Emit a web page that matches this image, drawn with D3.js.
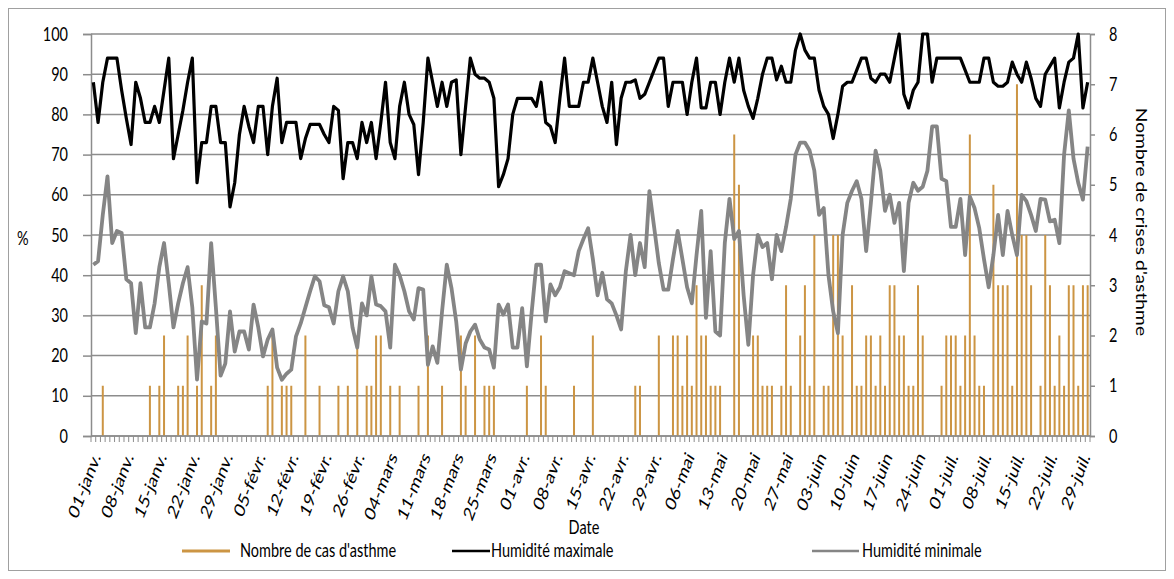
<!DOCTYPE html>
<html>
<head>
<meta charset="utf-8">
<script src="https://cdn.jsdelivr.net/npm/d3@7"></script>
<style>
body { margin: 0; background: #fff; }
text { font-family: Lato, "Open Sans", sans-serif; fill: #000; }
</style>
</head>
<body>
<svg id="chart" width="1174" height="579"></svg>
<script>
// daily values, 01-janv. .. 31-juil.
var asthme = [
  0,0,1,0,0,0,0,0,0,0,0,0,1,0,
  1,2,0,0,1,1,2,0,1,3,0,1,2,0,
  0,0,0,0,0,0,0,0,0,1,2,0,1,1,
  1,0,0,2,0,0,1,0,0,0,1,0,1,0,
  2,0,1,1,2,2,0,1,0,1,0,0,0,1,
  0,2,0,0,1,0,0,0,2,1,0,2,0,1,
  1,1,0,0,0,0,0,0,1,0,0,2,1,0,
  0,0,0,0,1,0,0,0,2,0,0,0,0,0,
  0,0,0,1,1,0,0,0,2,0,0,2,2,1,
  2,1,3,2,2,1,1,1,0,0,6,5,0,0,
  2,2,1,1,1,0,1,3,1,0,2,3,1,4,
  0,1,1,4,4,2,0,3,1,1,2,2,1,2,
  1,3,3,2,2,1,1,3,2,0,0,0,1,2,
  2,2,1,2,6,2,1,1,0,5,3,3,3,1,
  7,4,4,3,0,1,4,3,1,2,1,3,3,1,
  3,3
];

var humMax = [
  88,78,88,94,94,94,86,79,72.5,88,84,78,78,82,
  78,86,94,69,75,81,88,94,63,73,73,82,82,73,
  73,57,63,75,82,77,73,82,82,70,82,89,73,78,
  78,78,69,74,77.5,77.5,77.5,75,73,82,81,64,73,73,
  69,78,73,78,69,78,88,73,69,82,88,80,77.5,65,
  78,94,88,82,88,82,88,88.6,70,82,94,90,89,89,
  88,84,62,65,69,80,84,84,84,84,82,88,78,77,
  73,84,94,82,82,82,88,88,94,88,82,78,88,72.5,
  84,88,88,88.6,84,85,88,91,94,94,82,88,88,88,
  80,88,94,81.6,81.6,88,88,80,88,94,88,94,86,82,
  79,84,90,94,94,88.6,92,88,88,96,100,96,94,94,
  86,82,80,74,80,87,88,88,91,94,94,89,88,90,
  90,88,94,100,85,81.6,86,88,100,100,88,94,94,94,
  94,94,94,91,88,88,88,94,94,88,87,87,88,93,
  90,88,93,89,84,82,90,92,94,81.6,88,93,94,100,
  81.6,88
];

var humMin = [
  42.6,43.5,55,64.6,48,51,50.5,39,38,25.6,38,27,27,33,
  42,48,38,27,33,38,42,32,14,28.5,28,48,32,15,
  18,31,21,26,26,21.5,32.7,27,19.8,24,26.5,17,14,15.5,
  16.5,24.8,28,32,36,39.7,38.5,32.5,32,28,36,39.7,36,27,
  22,33,30,39.7,32.7,32.3,31,22,42.6,40,36,31,29,36.8,
  36.4,17.7,22.3,18.2,31,42.6,36.8,28.5,16.5,23,26,27.7,24,22,
  21.5,17,32.7,30.2,32.7,22,22,31.8,17.3,30.6,42.6,42.6,28.5,37.7,
  35,37,41,40.5,40,46,49,51.7,44,35,40.6,34,33,30,
  26.5,41,50,40,48,42,60.9,52,43,36.4,36.4,44,51,44,
  37,33,45,56,29.4,46,26,25,48,59,49,51,35,22.7,
  40,50,47,48,39,50,46,52,59,70,73,73,71,66,
  55,56.7,40,31,25.6,50,58,61,63.4,59,46,58,71,66,
  56,60,53,58,41,58,63,61,62,66,77,77,64,63.4,
  52,52,59,45,59.6,56.7,51.7,44,37,45,55,45,56,50,
  45,60,58.4,55,51,59,58.8,53.4,53.8,48,70,81,69,63,
  58.8,72
];

var tickLabels = ["01-janv.","08-janv.","15-janv.","22-janv.","29-janv.","05-févr.","12-févr.",
  "19-févr.","26-févr.","04-mars","11-mars","18-mars","25-mars","01-avr.","08-avr.","15-avr.",
  "22-avr.","29-avr.","06-mai","13-mai","20-mai","27-mai","03-juin","10-juin","17-juin",
  "24-juin","01-juil.","08-juil.","15-juil.","22-juil.","29-juil."];

var seriesNames = ["Nombre de cas d'asthme", "Humidité maximale", "Humidité minimale"];
var colors = ["#cc9544", "#000000", "#858585"];

var W = 1174, H = 579;
var plotL = 91, plotR = 1090, plotT = 34, plotB = 436;
var stretch = 1.33; // text in the picture is taller than wide

var svg = d3.select("#chart");
svg.append("rect").attr("width", W).attr("height", H).attr("fill", "#fff");
svg.append("rect").attr("x", 8.5).attr("y", 8.5).attr("width", 1157).attr("height", 562)
  .attr("fill", "none").attr("stroke", "#a0a0a0");

var x = d3.scaleBand().domain(d3.range(humMax.length)).range([plotL, plotR]);
var xc = function(i) { return x(i) + x.bandwidth() / 2; };
var y = d3.scaleLinear().domain([0, 100]).range([plotB, plotT]);
var y2 = d3.scaleLinear().domain([0, 8]).range([plotB, plotT]);

// gridlines
svg.append("g").selectAll("line").data(y.ticks(10)).enter().append("line")
  .attr("x1", plotL).attr("x2", plotR)
  .attr("y1", d => y(d)).attr("y2", d => y(d))
  .attr("stroke", "#8c8c8c").attr("stroke-width", 1.5);

// left axis
var gl = svg.append("g").attr("transform", "translate(" + plotL + ",0)")
  .call(d3.axisLeft(y).ticks(10).tickSize(8).tickPadding(15));
// right axis
var gr = svg.append("g").attr("transform", "translate(" + plotR + ",0)")
  .call(d3.axisRight(y2).ticks(8).tickSize(5).tickPadding(14));
[gl, gr].forEach(function(g) {
  g.select(".domain").attr("stroke", "#8c8c8c").attr("stroke-width", 1.5);
  g.selectAll(".tick line").attr("stroke", "#8c8c8c").attr("stroke-width", 1.5);
  g.selectAll(".tick text").attr("font-size", 14.5).attr("font-family", "Lato")
    .attr("transform", "scale(1," + stretch + ")");
});

// category ticks under the axis
svg.append("g").selectAll("line").data(d3.range(humMax.length + 1)).enter().append("line")
  .attr("x1", d => d < humMax.length ? x(d) : plotR)
  .attr("x2", d => d < humMax.length ? x(d) : plotR)
  .attr("y1", plotB).attr("y2", plotB + 6)
  .attr("stroke", "#8c8c8c").attr("stroke-width", 1);

// bars
svg.append("g").selectAll("rect").data(asthme).enter().append("rect")
  .attr("x", (d, i) => xc(i) - 1)
  .attr("width", 2)
  .attr("y", d => y2(d))
  .attr("height", d => plotB - y2(d))
  .attr("fill", colors[0]);

// x baseline
svg.append("line").attr("x1", plotL).attr("x2", plotR).attr("y1", plotB).attr("y2", plotB)
  .attr("stroke", "#8c8c8c").attr("stroke-width", 1.5);

// lines
var line = d3.line().x((d, i) => xc(i)).y(d => y(d));
svg.append("path").datum(humMin).attr("d", line).attr("fill", "none")
  .attr("stroke", colors[2]).attr("stroke-width", 3.8).attr("stroke-linejoin", "round");
svg.append("path").datum(humMax).attr("d", line).attr("fill", "none")
  .attr("stroke", colors[1]).attr("stroke-width", 3.2).attr("stroke-linejoin", "round");

// x tick labels
svg.append("g").selectAll("g").data(tickLabels).enter().append("g")
  .attr("transform", (d, k) => "translate(" + (xc(k * 7) + 3) + "," + (plotB + 18) + ") scale(1," + stretch + ") rotate(-63)")
  .append("text")
  .attr("text-anchor", "end").attr("dy", "0.35em")
  .attr("font-size", 15)
  .text(d => d);

function label(str, tx, ty, rot, anchor) {
  svg.append("g")
    .attr("transform", "translate(" + tx + "," + ty + ") scale(1," + stretch + ")" + (rot ? " rotate(" + rot + ")" : ""))
    .append("text").attr("text-anchor", anchor || "start").attr("dy", "0.35em")
    .attr("font-size", 14.5).text(str);
}

label("%", 17, 238);
label("Date", 584, 527, 0, "middle");
label("Nombre de crises d'asthme", 1141, 222, 90, "middle");

// legend
var legend = [
  {x1: 182, x2: 230, tx: 240},
  {x1: 452, x2: 490, tx: 491},
  {x1: 812, x2: 859, tx: 862}
];
legend.forEach(function(l, k) {
  svg.append("line").attr("x1", l.x1).attr("x2", l.x2).attr("y1", 551).attr("y2", 551)
    .attr("stroke", colors[k]).attr("stroke-width", k == 0 ? 3 : 2.5);
  label(seriesNames[k], l.tx, 550);
});
</script>
</body>
</html>
